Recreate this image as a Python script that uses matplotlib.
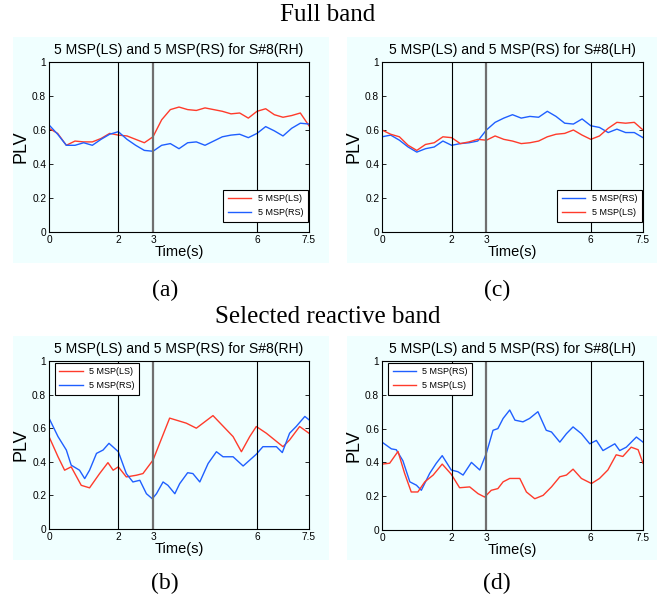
import matplotlib
matplotlib.use("Agg")
import matplotlib.pyplot as plt
from matplotlib.patches import Rectangle

SANS = ["Liberation Sans", "DejaVu Sans"]
SERIF = ["Liberation Serif", "DejaVu Serif"]

RED = "#ff3b2b"
BLUE = "#1f5fff"
BG = "#f0ffff"

# ---- data ----
T_GRID = [i * 0.25 for i in range(31)]

A_LS = [0.61, 0.58, 0.51, 0.535, 0.53, 0.53, 0.55, 0.58, 0.57, 0.565, 0.545,
        0.525, 0.56, 0.66, 0.72, 0.735, 0.72, 0.715, 0.73, 0.72, 0.71, 0.695,
        0.70, 0.67, 0.71, 0.725, 0.69, 0.675, 0.685, 0.70, 0.625]
A_RS = [0.63, 0.575, 0.51, 0.51, 0.525, 0.51, 0.545, 0.575, 0.59, 0.545, 0.51,
        0.48, 0.475, 0.51, 0.52, 0.49, 0.525, 0.53, 0.51, 0.535, 0.56, 0.57,
        0.575, 0.555, 0.58, 0.62, 0.595, 0.565, 0.61, 0.64, 0.635]

C_RS = [0.56, 0.57, 0.54, 0.50, 0.47, 0.49, 0.50, 0.535, 0.51, 0.52, 0.525,
        0.535, 0.60, 0.645, 0.67, 0.69, 0.67, 0.68, 0.675, 0.71, 0.68, 0.64,
        0.635, 0.665, 0.625, 0.615, 0.585, 0.605, 0.585, 0.585, 0.555]
C_LS = [0.60, 0.575, 0.56, 0.51, 0.48, 0.515, 0.525, 0.56, 0.555, 0.52, 0.53,
        0.545, 0.54, 0.565, 0.545, 0.535, 0.52, 0.525, 0.535, 0.56, 0.575, 0.58,
        0.60, 0.57, 0.545, 0.565, 0.61, 0.645, 0.64, 0.645, 0.60]

B_LS_T = [0, 0.26, 0.45, 0.64, 0.93, 1.17, 1.46, 1.7, 1.85, 2.0, 2.23, 2.52,
          2.71, 3.0, 3.48, 3.96, 4.25, 4.73, 5.31, 5.55, 5.79, 5.98, 6.27, 6.75,
          6.94, 7.23, 7.5]
B_LS = [0.55, 0.43, 0.35, 0.37, 0.26, 0.245, 0.33, 0.395, 0.35, 0.37, 0.31, 0.32,
        0.33, 0.41, 0.66, 0.63, 0.60, 0.675, 0.55, 0.46, 0.55, 0.61, 0.57, 0.49,
        0.53, 0.61, 0.57]
B_RS_T = [0, 0.26, 0.5, 0.64, 0.88, 1.03, 1.17, 1.37, 1.56, 1.73, 2.0, 2.23, 2.42,
          2.62, 2.81, 2.98, 3.1, 3.29, 3.43, 3.63, 3.77, 4.0, 4.15, 4.35, 4.59,
          4.83, 5.02, 5.31, 5.6, 5.79, 5.98, 6.17, 6.37, 6.56, 6.73, 6.94, 7.13,
          7.38, 7.5]
B_RS = [0.66, 0.55, 0.47, 0.38, 0.35, 0.30, 0.35, 0.45, 0.47, 0.51, 0.46, 0.33,
        0.28, 0.29, 0.21, 0.18, 0.21, 0.28, 0.26, 0.21, 0.27, 0.335, 0.33, 0.28,
        0.39, 0.46, 0.43, 0.43, 0.375, 0.41, 0.445, 0.49, 0.49, 0.49, 0.455, 0.57,
        0.61, 0.67, 0.65]

D_RS_T = [0, 0.27, 0.41, 0.6, 0.8, 0.99, 1.13, 1.37, 1.56, 1.73, 1.99, 2.18, 2.33,
          2.57, 2.81, 3.0, 3.19, 3.33, 3.48, 3.67, 3.82, 4.05, 4.24, 4.48, 4.72,
          4.87, 5.11, 5.3, 5.49, 5.73, 5.97, 6.16, 6.35, 6.69, 6.83, 7.02, 7.31, 7.5]
D_RS = [0.52, 0.48, 0.475, 0.41, 0.285, 0.265, 0.235, 0.335, 0.395, 0.44, 0.355,
        0.345, 0.325, 0.40, 0.355, 0.455, 0.59, 0.60, 0.66, 0.71, 0.65, 0.64, 0.66,
        0.70, 0.59, 0.58, 0.52, 0.57, 0.61, 0.57, 0.51, 0.53, 0.47, 0.51, 0.47,
        0.49, 0.55, 0.52]
D_LS_T = [0, 0.22, 0.46, 0.65, 0.84, 1.03, 1.23, 1.47, 1.73, 1.99, 2.23, 2.52, 2.76,
          2.95, 3.14, 3.33, 3.48, 3.67, 3.96, 4.15, 4.39, 4.63, 4.87, 5.11, 5.3,
          5.49, 5.73, 6.02, 6.25, 6.49, 6.73, 6.92, 7.16, 7.36, 7.5]
D_LS = [0.39, 0.395, 0.465, 0.335, 0.225, 0.225, 0.285, 0.325, 0.39, 0.33, 0.25,
        0.255, 0.215, 0.195, 0.235, 0.245, 0.285, 0.305, 0.305, 0.225, 0.185, 0.205,
        0.255, 0.315, 0.325, 0.36, 0.305, 0.275, 0.305, 0.355, 0.445, 0.435, 0.49,
        0.475, 0.395]

X_TICKS = [0, 2, 3, 6, 7.5]
X_TICK_LABELS = ["0", "2", "3", "6", "7.5"]
Y_TICKS = [0, 0.2, 0.4, 0.6, 0.8, 1]
Y_TICK_LABELS = ["0", "0.2", "0.4", "0.6", "0.8", "1"]

W, H = 657, 597


def fig_rect(x0, y0, x1, y1):
    # pixel box (top-left origin) -> figure fraction [l, b, w, h]
    return [x0 / W, (H - y1) / H, (x1 - x0) / W, (y1 - y0) / H]


def draw_panel(fig, box, title, series, legend_loc, legend_anchor):
    ax = fig.add_axes(fig_rect(*box))
    ax.set_facecolor(BG)
    for t, y, color, label in series:
        ax.plot(t, y, color=color, linewidth=1.0, label=label)
    ax.axvline(2, color="black", linewidth=0.8)
    ax.axvline(3, color="#707070", linewidth=1.6)
    ax.axvline(6, color="black", linewidth=0.8)
    ax.set_xlim(0, 7.5)
    ax.set_ylim(0, 1)
    ax.set_xticks(X_TICKS)
    ax.set_xticklabels(X_TICK_LABELS, family=SANS, fontsize=7.3)
    ax.set_yticks(Y_TICKS)
    ax.set_yticklabels(Y_TICK_LABELS, family=SANS, fontsize=7.3)
    ax.tick_params(direction="in", length=3, width=0.6, pad=2,
                   top=True, right=True)
    for sp in ax.spines.values():
        sp.set_linewidth(0.8)
    ax.set_title(title, family=SANS, fontsize=10.1, pad=6)
    ax.set_xlabel("Time(s)", family=SANS, fontsize=10.5, labelpad=0)
    ax.set_ylabel("PLV", family=SANS, fontsize=13, labelpad=2)
    leg = ax.legend(loc=legend_loc, bbox_to_anchor=legend_anchor,
                    prop={"family": SANS, "size": 6.5},
                    fancybox=False, framealpha=1, edgecolor="black",
                    handlelength=2.6, handletextpad=0.7, borderaxespad=0,
                    labelspacing=0.55, borderpad=0.5)
    leg.get_frame().set_linewidth(0.8)
    return ax


fig = plt.figure(figsize=(W / 100, H / 100), dpi=100)
fig.patch.set_facecolor("white")

for x0, y0, x1, y1 in [(13, 37, 329, 263), (347, 37, 657, 263),
                       (13, 336, 329, 560), (347, 336, 657, 560)]:
    fig.patches.append(Rectangle((x0 / W, (H - y1) / H), (x1 - x0) / W,
                                 (y1 - y0) / H, transform=fig.transFigure,
                                 facecolor=BG, edgecolor="none", zorder=-5))

draw_panel(fig, (49, 62, 309, 232), "5 MSP(LS) and 5 MSP(RS) for S#8(RH)",
           [(T_GRID, A_LS, RED, "5 MSP(LS)"), (T_GRID, A_RS, BLUE, "5 MSP(RS)")],
           "lower right", (0.995, 0.06))
draw_panel(fig, (382, 62, 643, 232), "5 MSP(LS) and 5 MSP(RS) for S#8(LH)",
           [(T_GRID, C_RS, BLUE, "5 MSP(RS)"), (T_GRID, C_LS, RED, "5 MSP(LS)")],
           "lower right", (0.995, 0.06))
draw_panel(fig, (49, 361, 309, 529), "5 MSP(LS) and 5 MSP(RS) for S#8(RH)",
           [(B_LS_T, B_LS, RED, "5 MSP(LS)"), (B_RS_T, B_RS, BLUE, "5 MSP(RS)")],
           "upper left", (0.023, 0.99))
draw_panel(fig, (382, 361, 643, 530), "5 MSP(LS) and 5 MSP(RS) for S#8(LH)",
           [(D_RS_T, D_RS, BLUE, "5 MSP(RS)"), (D_LS_T, D_LS, RED, "5 MSP(LS)")],
           "upper left", (0.023, 0.99))

fig.text(328 / W, 1 - 15 / H, "Full band", family=SERIF, fontsize=18,
         ha="center", va="center")
fig.text(328 / W, 1 - 317 / H, "Selected reactive band", family=SERIF,
         fontsize=18, ha="center", va="center")
for x, y, s in [(165, 290, "(a)"), (497, 290, "(c)"),
                (165, 583, "(b)"), (497, 583, "(d)")]:
    fig.text(x / W, 1 - y / H, s, family=SERIF, fontsize=17,
             ha="center", va="center")

fig.savefig("out.png", dpi=100)
